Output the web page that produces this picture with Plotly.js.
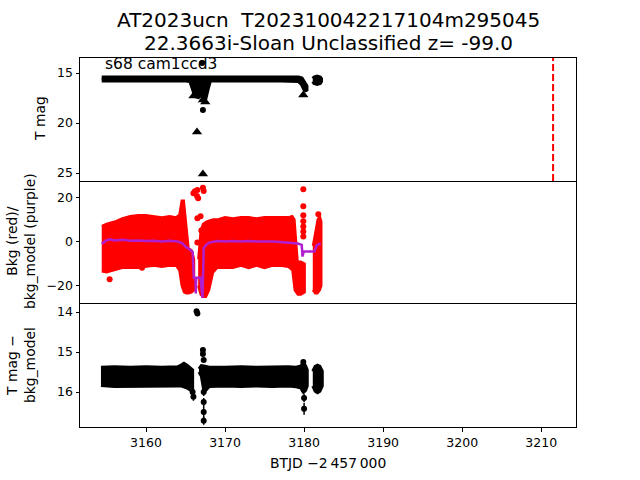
<!DOCTYPE html>
<html><head><meta charset="utf-8">
<script src="https://cdn.plot.ly/plotly-3.0.1.min.js"></script>
<style>html,body{margin:0;padding:0;background:#fff}</style>
</head><body><div id="chart" style="width:640px;height:480px"></div>
<script>
// ---------------- data ----------------
// Top panel: T mag
const tmagBandT  = [3154.4, 3157, 3160, 3163, 3165.0, 3165.6, 3165.9, 3166.2, 3166.6, 3166.9, 3167.2, 3167.5, 3167.8, 3168.1, 3171, 3174, 3177, 3179.3, 3179.7, 3180.0, 3180.3];
const tmagBandHi = [15.45, 15.45, 15.45, 15.45, 15.45, 15.45, 15.5, 15.5, 15.5, 15.45, 15.4, 15.45, 15.5, 15.45, 15.45, 15.45, 15.45, 15.45, 15.55, 15.9, 16.3];
const tmagBandLo = [15.75, 15.75, 15.75, 15.75, 15.75, 15.8, 16.5, 17.3, 17.4, 16.8, 17.6, 17.6, 16.6, 15.75, 15.75, 15.75, 15.75, 15.8, 16.1, 16.6, 16.8];
const tmagBlobT  = [3181.1, 3181.25, 3181.65, 3182.05, 3182.2];
const tmagBlobHi = [15.55, 15.4, 15.3, 15.4, 15.55];
const tmagBlobLo = [15.85, 16.05, 16.15, 16.05, 15.85];
const tmagPtT = [3167.1, 3167.2];
const tmagPtM = [14.0, 18.7];
const tmagLimT = [3166.0, 3166.5, 3167.2, 3167.5, 3166.45, 3167.2, 3179.9];
const tmagLimM = [17.3, 17.2, 17.7, 17.9, 20.9, 25.1, 17.2];
const discoveryT = 3211.5;

// Middle panel: background flux (red) and background model (purple)
const bkgAT  = [3154.4, 3155, 3156, 3157, 3158, 3159, 3160, 3161, 3162, 3163, 3163.8, 3164.2, 3164.5, 3164.8, 3165.1, 3165.4, 3165.8, 3166.1];
const bkgAHi = [7, 8, 9, 10.5, 11.5, 12, 12, 11.5, 11, 11.5, 11, 12, 18.5, 18.5, 8, -3, -4, -8];
const bkgALo = [-13.5, -14, -13, -12, -12, -12, -11.5, -11, -11.5, -11, -11, -13, -20, -23, -23.5, -23.5, -23, -22];
const bkgBT  = [3166.6, 3166.9, 3167.2, 3167.6, 3168.0, 3168.5, 3169, 3170, 3171, 3172, 3173, 3174, 3175, 3176, 3177, 3178, 3178.5, 3178.8, 3179.2, 3179.6, 3180.1];
const bkgBHi = [-8, 5, 8, 9, 9.5, 10, 10, 11, 10.5, 11, 11, 10.5, 11, 11, 11, 11, 11.5, 10, -9, -9, -10];
const bkgBLo = [-20, -24, -25, -25, -22, -14, -12, -12, -12, -11, -12, -11, -12, -11, -11, -11.5, -13, -22, -24, -24, -23];
const bkgCT  = [3181.1, 3181.4, 3181.7, 3182.0, 3182.2];
const bkgCHi = [-2, 5, 10, 11.5, 9];
const bkgCLo = [-22, -23.5, -23.5, -22, -20];
const bkgPtT = [3155.4, 3159.5, 3166.0, 3166.2, 3166.45, 3166.5, 3166.6, 3166.5, 3166.5, 3166.9, 3167.0, 3167.2, 3167.3, 3167.2, 3179.9, 3179.9, 3179.9, 3179.9, 3179.9, 3179.9, 3179.9, 3181.8];
const bkgPtV = [-17, -11.8, 21.8, 22.7, 20.5, 23.2, 19.5, 10.5, -0.4, 11.4, 5, 24.3, 22.8, 3.6, 23.6, 15.9, 11.8, 9.1, 6.8, 4.5, 2.3, 12.3];
const modelT = [3154.4, 3155, 3155.5, 3156, 3157, 3158, 3159, 3160, 3161, 3162, 3163, 3164, 3164.6, 3165.0, 3165.5, 3165.9, 3166.05, 3166.25, 3166.3, 3166.35, 3166.9, 3167.15, 3167.3, 3167.6, 3168.0, 3169, 3170, 3171, 3172, 3173, 3174, 3175, 3176, 3177, 3178, 3179.2, 3179.7, 3179.8, 3179.95, 3181.3, 3181.6, 3182.1];
const modelV = [-1, 0.5, 1, 0.5, 0.8, 0.3, 0.5, 0.2, 0.3, 0, 0.3, 0, -0.8, -2.3, -3.5, -4.7, -16.4, -16.4, -23.5, -16.4, -16.4, -25.5, -3, -1.5, -0.5, 0.2, 0, 0.2, 0, 0.2, 0, 0.1, 0, -0.2, -0.4, -0.9, -1.5, -6.8, -4.5, -4.5, -1.8, -0.8];

// Bottom panel: T mag - bkg_model
const diffAT  = [3154.3, 3156, 3158, 3160, 3162, 3164, 3164.5, 3164.8, 3165.2, 3165.6, 3165.9];
const diffAHi = [15.38, 15.37, 15.38, 15.37, 15.38, 15.37, 15.32, 15.28, 15.33, 15.4, 15.45];
const diffALo = [15.84, 15.86, 15.85, 15.86, 15.85, 15.85, 15.85, 15.87, 15.9, 15.95, 15.95];
const diffBT  = [3166.7, 3167.0, 3167.3, 3167.6, 3168, 3170, 3172, 3174, 3176, 3178, 3179, 3179.6, 3179.9, 3180.2, 3180.4];
const diffBHi = [15.42, 15.34, 15.35, 15.37, 15.38, 15.38, 15.37, 15.38, 15.37, 15.37, 15.38, 15.35, 15.27, 15.35, 15.45];
const diffBLo = [15.5, 15.6, 15.95, 15.95, 15.86, 15.85, 15.86, 15.85, 15.86, 15.85, 15.87, 15.9, 16.0, 15.95, 15.85];
const diffCT  = [3181.1, 3181.4, 3181.7, 3182.0, 3182.3];
const diffCHi = [15.48, 15.36, 15.33, 15.36, 15.48];
const diffCLo = [15.85, 15.98, 16.02, 15.98, 15.85];
const diffPtT = [3166.4, 3166.5, 3165.9, 3166.0, 3167.2, 3167.2, 3167.3, 3167.3, 3167.3, 3167.3, 3167.3, 3179.9, 3180.0, 3180.0, 3179.95];
const diffPtM = [13.98, 14.04, 16.0, 16.12, 14.95, 15.05, 15.2, 16.0, 16.25, 16.5, 16.72, 15.25, 16.15, 16.42, 15.95];
const diffPtE = [0.02, 0.02, 0.1, 0.1, 0.03, 0.03, 0.05, 0.1, 0.1, 0.15, 0.1, 0.05, 0.1, 0.15, 0.1];

// Ticks and labels
const xTicks = [3160, 3170, 3180, 3190, 3200, 3210];
const topTicks = [15, 20, 25];
const midTicks = [-20, 0, 20];
const botTicks = [14, 15, 16];
const titleLine1 = 'AT2023ucn  T202310042217104m295045';
const titleLine2 = '22.3663i-Sloan Unclassified z= -99.0';
const panelNote = 's68 cam1ccd3';
const xLabel = 'BTJD \u22122\u2009457\u2009000';

// ---------------- drawing ----------------
const FONT = 'DejaVu Sans, sans-serif';
function band(t, hi, lo, color, xa, ya, lw) {
  return {
    type: 'scatter', mode: 'lines',
    x: t.concat(t.slice().reverse()),
    y: hi.concat(lo.slice().reverse()),
    fill: 'toself', fillcolor: color,
    line: {color: color, width: lw},
    xaxis: xa, yaxis: ya, hoverinfo: 'skip', showlegend: false
  };
}
const traces = [
  // top
  band(tmagBandT, tmagBandHi, tmagBandLo, 'black', 'x3', 'y', 4),
  band(tmagBlobT, tmagBlobHi, tmagBlobLo, 'black', 'x3', 'y', 3),
  {type: 'scatter', mode: 'markers', x: tmagPtT, y: tmagPtM, xaxis: 'x3', yaxis: 'y',
   marker: {color: 'black', size: 6}, showlegend: false},
  {type: 'scatter', mode: 'markers', x: tmagLimT, y: tmagLimM, xaxis: 'x3', yaxis: 'y',
   marker: {color: 'black', size: 9, symbol: 'triangle-up'}, showlegend: false},
  // middle
  band(bkgAT, bkgAHi, bkgALo, 'red', 'x2', 'y2', 2),
  band(bkgBT, bkgBHi, bkgBLo, 'red', 'x2', 'y2', 2),
  band(bkgCT, bkgCHi, bkgCLo, 'red', 'x2', 'y2', 2),
  {type: 'scatter', mode: 'markers', x: bkgPtT, y: bkgPtV, xaxis: 'x2', yaxis: 'y2',
   marker: {color: 'red', size: 6}, showlegend: false},
  {type: 'scatter', mode: 'lines', x: modelT, y: modelV, xaxis: 'x2', yaxis: 'y2',
   line: {color: '#b01ecf', width: 2.5}, showlegend: false},
  // bottom
  band(diffAT, diffAHi, diffALo, 'black', 'x', 'y3', 3),
  band(diffBT, diffBHi, diffBLo, 'black', 'x', 'y3', 3),
  band(diffCT, diffCHi, diffCLo, 'black', 'x', 'y3', 3),
  {type: 'scatter', mode: 'markers', x: diffPtT, y: diffPtM, xaxis: 'x', yaxis: 'y3',
   marker: {color: 'black', size: 6},
   error_y: {type: 'data', array: diffPtE, visible: true, color: 'black', thickness: 1.5, width: 0},
   showlegend: false}
];

const axBase = {showline: true, mirror: true, linecolor: 'black', linewidth: 1,
  showgrid: false, zeroline: false, tickfont: {family: FONT, size: 12.5, color: 'black'},
  ticks: 'outside', ticklen: 3.5, tickwidth: 1, tickcolor: 'black'};
const xr = [3151.65, 3214.4];
const layout = {
  width: 640, height: 480,
  margin: {l: 80, r: 64, t: 58, b: 53},
  paper_bgcolor: 'white', plot_bgcolor: 'white',
  font: {family: FONT, color: 'black'},
  showlegend: false,
  xaxis: Object.assign({}, axBase, {anchor: 'y3', range: xr, tickmode: 'array', tickvals: xTicks, ticktext: xTicks.map(String)}),
  xaxis2: Object.assign({}, axBase, {anchor: 'y2', range: xr, matches: 'x', ticks: '', showticklabels: false, showline: false}),
  xaxis3: Object.assign({}, axBase, {anchor: 'y', range: xr, matches: 'x', ticks: '', showticklabels: false}),
  yaxis: Object.assign({}, axBase, {domain: [2/3, 1], anchor: 'x3', range: [25.8, 13.5], tickmode: 'array', tickvals: topTicks}),
  yaxis2: Object.assign({}, axBase, {domain: [1/3, 2/3], anchor: 'x2', range: [-28.2, 27.3], tickmode: 'array', tickvals: midTicks}),
  yaxis3: Object.assign({}, axBase, {domain: [0, 1/3], anchor: 'x', range: [16.875, 13.8], tickmode: 'array', tickvals: botTicks}),
  shapes: [{type: 'line', xref: 'x3', yref: 'y domain', x0: discoveryT, x1: discoveryT, y0: 0, y1: 1,
            line: {color: 'red', width: 2, dash: '7px,3px'}}],
  annotations: [
    {text: titleLine1, xref: 'paper', yref: 'paper', x: 0.5, y: (427-20)/369, xanchor: 'center', yanchor: 'middle', showarrow: false, font: {family: FONT, size: 20}},
    {text: titleLine2, xref: 'paper', yref: 'paper', x: 0.5, y: (427-43)/369, xanchor: 'center', yanchor: 'middle', showarrow: false, font: {family: FONT, size: 20}},
    {text: panelNote, xref: 'paper', yref: 'paper', x: (103-80)/496, y: (427-64)/369, xanchor: 'left', yanchor: 'middle', showarrow: false, font: {family: FONT, size: 15.5}},
    {text: 'T mag', xref: 'paper', yref: 'paper', x: (40-80)/496, y: (427-119)/369, xanchor: 'center', yanchor: 'middle', textangle: -90, showarrow: false, font: {family: FONT, size: 13.9}},
    {text: 'Bkg (red)/<br>bkg_model (purple)', xref: 'paper', yref: 'paper', x: (21-80)/496, y: (427-241)/369, xanchor: 'center', yanchor: 'middle', textangle: -90, showarrow: false, font: {family: FONT, size: 13.9}},
    {text: 'T mag \u2212<br>bkg_model', xref: 'paper', yref: 'paper', x: (21-80)/496, y: (427-365)/369, xanchor: 'center', yanchor: 'middle', textangle: -90, showarrow: false, font: {family: FONT, size: 13.9}},
    {text: xLabel, xref: 'paper', yref: 'paper', x: 0.5, y: (427-463)/369, xanchor: 'center', yanchor: 'middle', showarrow: false, font: {family: FONT, size: 13.9}}
  ]
};
Plotly.newPlot('chart', traces, layout, {staticPlot: true, displayModeBar: false});
</script>
</body></html>
